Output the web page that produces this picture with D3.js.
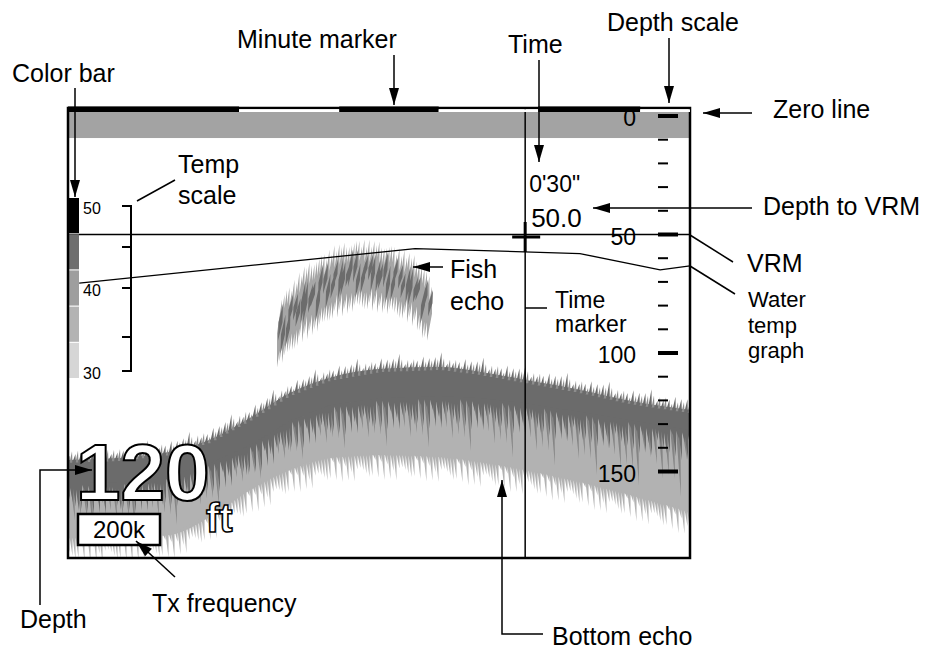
<!DOCTYPE html>
<head>
<meta charset="utf-8">
<style>
body { margin: 0; background: #fff; }
text { font-family: "Liberation Sans", Arial, Helvetica, sans-serif; fill: #000; }
.lead { stroke: #000; stroke-width: 1.5px; fill: none; }
</style>
</head>
<body>
<script src="https://d3js.org/d3.v7.min.js"></script>
<script>

// screen size and the echo window
var width = 931, height = 650;
var frame = {left: 68, right: 690, top: 108, bottom: 558};

// ---- data ----
// horizontal unit: position in the screen history, 0 = oldest column, 100 = newest
var minuteMarks = [0, 27.5, 43.6, 59.6, 75.6, 92, 100];
var timeMarker = 73.5;
var timeText = "0'30\"";
var vrmDepth = 50.0;
var zeroBand = [-1.7, 9.3];

// depth scale (ft)
var depthMinor = [0, 10, 20, 30, 40, 50, 60, 70, 80, 90, 100, 110, 120, 130, 140, 150];
var depthMajor = [0, 50, 100, 150];

// temperature scale and colour bar
var tempTicks = [30, 35, 40, 45, 50];
var tempLabels = [30, 40, 50];
var colorBar = ["#000000", "#6e6e6e", "#9e9e9e", "#b3b3b3", "#d6d6d6"];

// water temperature graph
var tempX = [1.8, 55.8, 82.3, 95.2, 100];
var tempVal = [40.6, 44.8, 44.2, 42.2, 42.7];

// bottom echo profile (ft)
var bottomX     = [0, 8.4, 16.4, 22.8, 29.3, 35.7, 42.1, 50.2, 59.8, 66.2, 73.5, 82.3, 90.4, 100];
var bottomTop   = [145.1, 144.3, 141.8, 136.7, 127.4, 116.9, 110.5, 106.8, 105.9, 108.0, 111.4, 115.6, 120.3, 124.1];
var bottomDark  = [155.7, 155.3, 152.7, 147.3, 139.7, 129.5, 122.8, 119.8, 119.0, 119.8, 121.9, 125.7, 129.1, 133.3];
var bottomLight = [178.1, 178.1, 176.8, 169.2, 157.8, 149.4, 144.3, 143.0, 143.9, 146.0, 149.4, 154.4, 159.9, 167.1];

// fish echo arch (ft)
var fishX      = [33.6, 37.3, 42.1, 46.5, 51.8, 55.8, 57.9];
var fishTop    = [79.7, 67.1, 58.6, 55.7, 58.6, 64.1, 73.4];
var fishBottom = [102.1, 92.4, 82.7, 77.6, 79.7, 85.2, 93.7];

var depthNow = "120", depthUnit = "ft", txFreq = "200k";

// spike length pattern for the echo texture
var jag = [0.9, 0.35, 1.0, 0.55, 0.8, 0.25, 0.95, 0.5, 0.7, 0.15, 1.0, 0.6, 0.45, 0.85];
function pat(i, k) { return jag[(i * 5 + k * 3) % jag.length]; }

// ---- scales ----
var x = d3.scaleLinear().domain([0, 100]).range([frame.left, frame.right]);
var y = d3.scaleLinear().domain([0, 150]).range([116, 471.5]);
var yT = d3.scaleLinear().domain(tempTicks).range([371, 337, 288, 247, 206]);
var barY = d3.scaleBand().domain(d3.range(colorBar.length)).range([198, 378]).paddingInner(0.03);

var topAt = d3.scaleLinear().domain(bottomX).range(bottomTop);
var darkAt = d3.scaleLinear().domain(bottomX).range(bottomDark);
var lightAt = d3.scaleLinear().domain(bottomX).range(bottomLight);
var fTopAt = d3.scaleLinear().domain(fishX).range(fishTop);
var fBotAt = d3.scaleLinear().domain(fishX).range(fishBottom);

var svg = d3.select("body").append("svg")
    .attr("width", width)
    .attr("height", height);

svg.append("defs").append("clipPath").attr("id", "clip")
  .append("rect")
    .attr("x", frame.left).attr("y", frame.top)
    .attr("width", frame.right - frame.left)
    .attr("height", frame.bottom - frame.top);

var g = svg.append("g").attr("clip-path", "url(#clip)");

// zero line band
g.append("rect")
    .attr("x", frame.left).attr("width", frame.right - frame.left)
    .attr("y", y(zeroBand[0])).attr("height", y(zeroBand[1]) - y(zeroBand[0]))
    .style("fill", "#a3a3a3");

// ---- bottom echo ----
var idx = d3.range(bottomX.length);
var area = function(a, b) {
  return d3.area()
    .curve(d3.curveMonotoneX)
    .x(function(i) { return x(bottomX[i]); })
    .y0(function(i) { return y(b[i]); })
    .y1(function(i) { return y(a[i]); });
};

function spike(px, yb, len, w, lean) {
  return "M" + (px - w) + "," + yb + "L" + (px + lean) + "," + (yb - len) + "L" + (px + w) + "," + yb + "Z";
}

var cols = d3.range(frame.left, frame.right + 3, 3);
var lightDown = "", midDown = "", darkDown = "", grass = "", grassMid = "";
cols.forEach(function(px, i) {
  var u = x.invert(px);
  var t = y(topAt(u)), d = y(darkAt(u)), l = y(lightAt(u));
  lightDown += spike(px, l - 2, -(3 + 24 * pat(i, 1)), 1.6, 1.5);
  if (i % 2 === 1) midDown += spike(px + 1, d - 3, -((l - d) * (0.3 + 0.7 * pat(i, 2))), 2.2, 3);
  darkDown += spike(px, d - 2, -(4 + 28 * pat(i, 4)), 2, 2);
  if (i % 2 === 0) grass += spike(px, t + 3, 5 + 15 * pat(i, 3), 1.8, 1.5);
  else grassMid += spike(px, t + 3, 2 + 10 * pat(i, 5), 1.5, 1);
});

g.append("path").attr("d", area(bottomTop, bottomLight)(idx)).style("fill", "#b2b2b2");
g.append("path").attr("d", lightDown).style("fill", "#b2b2b2");
g.append("path").attr("d", midDown).style("fill", "#858585");
g.append("path").attr("d", area(bottomTop, bottomDark)(idx)).style("fill", "#6b6b6b");
g.append("path").attr("d", darkDown).style("fill", "#6b6b6b");
g.append("path").attr("d", grassMid).style("fill", "#8d8d8d");
g.append("path").attr("d", grass).style("fill", "#6b6b6b");

// ---- fish echo ----
var fishCols = d3.range(x(fishX[0]), x(fishX[fishX.length - 1]), 2.5);
var fishLight = "", fishDark = "";
function diamond(px, yt, yb, w, lean) {
  var m = (yt + yb) / 2;
  return "M" + px + "," + yb + "L" + (px - w + lean / 2) + "," + m + "L" + (px + lean) + "," + yt +
         "L" + (px + w + lean / 2) + "," + m + "Z";
}
fishCols.forEach(function(px, i) {
  var u = x.invert(px);
  var t = y(fTopAt(u)), b = y(fBotAt(u)), h = b - t;
  fishLight += diamond(px, t - 10 * pat(i, 1), b + 10 * pat(i, 2), 2.5, 5);
  if (i % 3 !== 2) {
    fishDark += diamond(px + 1, t + h * 0.35 * pat(i, 3) - 4, b - h * 0.45 * pat(i, 6) + 2, 2, 5);
  }
});
g.append("path").attr("d", fishLight).style("fill", "#a6a6a6");
g.append("path").attr("d", fishDark).style("fill", "#6c6c6c");

// ---- water temperature graph ----
g.append("path")
    .datum(d3.range(tempX.length))
    .attr("d", d3.line()
      .x(function(i) { return x(tempX[i]); })
      .y(function(i) { return yT(tempVal[i]); }))
    .style("fill", "none").style("stroke", "#000").style("stroke-width", "1.3px");

// VRM and time marker
g.append("line")
    .attr("x1", frame.left).attr("x2", frame.right)
    .attr("y1", y(vrmDepth)).attr("y2", y(vrmDepth))
    .style("stroke", "#000").style("stroke-width", "1.5px");
g.append("line")
    .attr("x1", x(timeMarker)).attr("x2", x(timeMarker))
    .attr("y1", frame.top).attr("y2", frame.bottom)
    .style("stroke", "#000").style("stroke-width", "1.5px");

// cursor cross
var cx = x(timeMarker), cy = y(vrmDepth) + 2.5;
g.append("path")
    .attr("d", "M" + (cx - 13) + "," + cy + "H" + (cx + 15) + "M" + cx + "," + (cy - 15) + "V" + (cy + 15))
    .style("stroke", "#000").style("stroke-width", "3px");

// depth scale
g.selectAll(".minor").data(depthMinor).enter().append("line")
    .attr("x1", 658).attr("x2", 668)
    .attr("y1", function(d) { return y(d); }).attr("y2", function(d) { return y(d); })
    .style("stroke", "#000").style("stroke-width", "2px");
g.selectAll(".major").data(depthMajor).enter().append("line")
    .attr("x1", 658).attr("x2", 678)
    .attr("y1", function(d) { return y(d); }).attr("y2", function(d) { return y(d); })
    .style("stroke", "#000").style("stroke-width", "4px");
g.selectAll(".dlab").data(depthMajor).enter().append("text")
    .attr("x", 636).attr("y", function(d) { return y(d) + 10; })
    .attr("text-anchor", "end")
    .style("font-size", "23px")
    .text(function(d) { return d; });

// readouts
g.append("text").attr("x", cx + 4).attr("y", 192).style("font-size", "23px").text(timeText);
g.append("text").attr("x", cx + 6).attr("y", y(vrmDepth) - 8).style("font-size", "26px").text(vrmDepth.toFixed(1));

// colour bar
g.selectAll(".cbar").data(colorBar).enter().append("rect")
    .attr("x", frame.left).attr("width", 11)
    .attr("y", function(d, i) { return barY(i); })
    .attr("height", barY.bandwidth())
    .style("fill", function(d) { return d; });

// temperature scale
var tAxis = svg.append("g");
tAxis.append("line")
    .attr("x1", 131).attr("x2", 131)
    .attr("y1", yT(50)).attr("y2", yT(30))
    .style("stroke", "#000").style("stroke-width", "2px");
tAxis.selectAll(".tt").data(tempTicks).enter().append("line")
    .attr("x1", 122).attr("x2", 132)
    .attr("y1", function(d) { return yT(d); }).attr("y2", function(d) { return yT(d); })
    .style("stroke", "#000").style("stroke-width", "2px");
tAxis.selectAll(".tl").data(tempLabels).enter().append("text")
    .attr("x", 83).attr("y", function(d) { return yT(d) + 8; })
    .style("font-size", "16px")
    .text(function(d) { return d; });

// big depth readout
g.append("text").attr("x", 76).attr("y", 500)
    .style("font-size", "80px").style("font-weight", "bold").style("fill", "#fff")
    .style("stroke", "#000").style("stroke-width", "2px")
    .text(depthNow);
g.append("text").attr("x", 206).attr("y", 532)
    .style("font-size", "40px").style("font-weight", "bold").style("fill", "#fff")
    .style("stroke", "#000").style("stroke-width", "1.5px")
    .text(depthUnit);

// frequency box
g.append("rect").attr("x", 78).attr("y", 514).attr("width", 82).attr("height", 31)
    .style("fill", "#fff").style("stroke", "#000").style("stroke-width", "2.5px");
g.append("text").attr("x", 119).attr("y", 538).attr("text-anchor", "middle")
    .style("font-size", "24px").text(txFreq);

// frame
svg.append("rect")
    .attr("x", frame.left).attr("y", frame.top)
    .attr("width", frame.right - frame.left).attr("height", frame.bottom - frame.top)
    .style("fill", "none").style("stroke", "#000").style("stroke-width", "2.5px");

// minute marker
svg.selectAll(".mm").data(d3.range(minuteMarks.length - 1)).enter().append("rect")
    .attr("x", function(i) { return x(minuteMarks[i]); })
    .attr("width", function(i) { return x(minuteMarks[i + 1]) - x(minuteMarks[i]); })
    .attr("y", function(i) { return i % 2 ? 109.3 : 106.5; })
    .attr("height", function(i) { return i % 2 ? 2.7 : 5.5; })
    .style("fill", function(i) { return i % 2 ? "#fff" : "#000"; });

// ---- annotations ----
var notes = svg.append("g");
// one text element per label; extra lines go in tspans
function label(lines, px, py, size, step) {
  var t = notes.append("text").attr("x", px).attr("y", py)
      .style("font-size", (size || 25) + "px");
  [].concat(lines).forEach(function(s, k) {
    t.append("tspan").attr("x", px).attr("dy", k ? step : 0).text(s);
  });
}
function leader(pts) {
  notes.append("path").attr("class", "lead").attr("d", d3.line()(pts));
}
function arrow(pts) {
  leader(pts);
  var a = pts[pts.length - 2], b = pts[pts.length - 1];
  var ang = Math.atan2(b[1] - a[1], b[0] - a[0]);
  var L = 17, W = 5;
  var bx = b[0] - L * Math.cos(ang), by = b[1] - L * Math.sin(ang);
  notes.append("path")
      .attr("d", "M" + b[0] + "," + b[1] +
        "L" + (bx - W * Math.sin(ang)) + "," + (by + W * Math.cos(ang)) +
        "L" + (bx + W * Math.sin(ang)) + "," + (by - W * Math.cos(ang)) + "Z")
      .style("fill", "#000");
}

label("Color bar", 12, 82);
arrow([[75, 88], [75, 197]]);
label("Minute marker", 237, 48);
arrow([[394, 55], [394, 105]]);
label("Time", 508, 53);
arrow([[539, 60], [539, 162]]);
label("Depth scale", 607, 31);
arrow([[669, 38], [669, 103]]);
label("Zero line", 773, 118);
arrow([[752, 113], [703, 113]]);
label(["Temp", "scale"], 178, 173, 25, 31);
leader([[175, 180], [137, 201]]);
label("Depth to VRM", 763, 215);
arrow([[752, 208], [593, 208]]);
label("VRM", 747, 272);
leader([[690, 235], [733, 262]]);
label(["Water", "temp", "graph"], 748, 307, 22, 25.5);
leader([[690, 266], [735, 294]]);
label(["Fish", "echo"], 450, 278, 25, 32);
arrow([[443, 267], [413, 267]]);
label(["Time", "marker"], 555, 308, 23, 24);
leader([[525, 308], [547, 308]]);
label("Depth", 20, 628);
arrow([[40, 605], [40, 470], [92, 470]]);
label("Tx frequency", 152, 612);
arrow([[175, 577], [136, 541]]);
label("Bottom echo", 552, 645);
arrow([[543, 634], [502, 634], [502, 480]]);

</script>
</body>
